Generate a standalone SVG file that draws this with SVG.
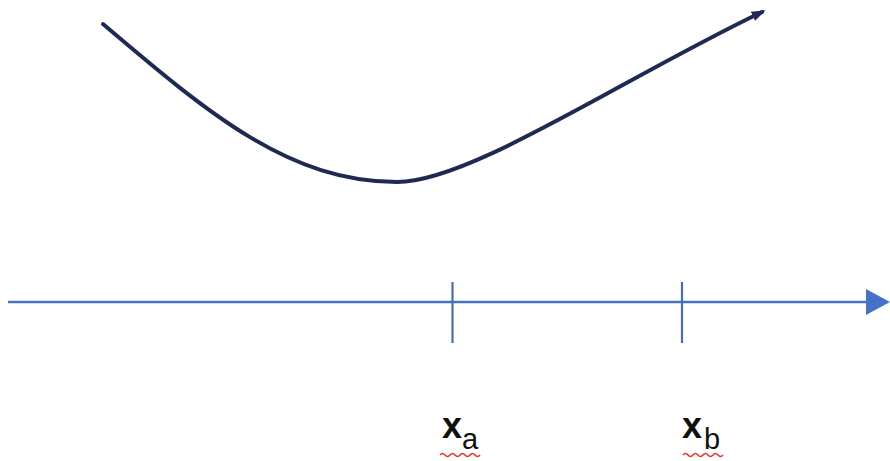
<svg xmlns="http://www.w3.org/2000/svg" width="890" height="461" viewBox="0 0 890 461">
<style>
.curve{fill:none;stroke:#1e2a52;stroke-width:4;stroke-linecap:round}
.axis{fill:none;stroke:#4472c4;stroke-width:2.5}
.tick{fill:none;stroke:#4f6bb0;stroke-width:2.2}
.lbl{font-family:"Liberation Sans",Arial,sans-serif;fill:#111}
.main{font-size:36px;font-weight:bold}
.sub{font-size:29px}
.squig{fill:none;stroke:#e0342c;stroke-width:1.6}
</style>
<defs>
<marker id="ahCurve" markerWidth="4" markerHeight="3" refX="2.5" refY="1.25" orient="auto" markerUnits="strokeWidth">
<path d="M0,0 L3.5,1.25 L0,2.5 Z" fill="#1e2a52"/>
</marker>
</defs>
<rect width="890" height="461" fill="#ffffff"/>
<g id="curve">
<path class="curve" d="M103,24 C210,115 290,182 397,182 C470,182 620,80 762,12" marker-end="url(#ahCurve)"/>
</g>
<g id="connectors">
<line class="axis" x1="8" y1="302" x2="868" y2="302"/>
<polygon points="866,289 890,302 866,315" fill="#4472c4"/>
</g>
<g id="tick-a">
<line class="tick" x1="452.5" y1="282" x2="452.5" y2="343"/>
</g>
<g id="tick-b">
<line class="tick" x1="682" y1="282" x2="682" y2="343"/>
</g>
<g id="label-xa">
<text class="lbl main" x="442" y="438">x</text>
<text class="lbl sub" x="462" y="449">a</text>
<path class="squig" d="M440,455 q2.5,-3 5,0 t5,0 t5,0 t5,0 t5,0 t5,0 t5,0 t5,0"/>
</g>
<g id="label-xb">
<text class="lbl main" x="682" y="438">x</text>
<text class="lbl sub" x="704" y="449">b</text>
<path class="squig" d="M683,455 q2.5,-3 5,0 t5,0 t5,0 t5,0 t5,0 t5,0 t5,0 t5,0"/>
</g>
</svg>
